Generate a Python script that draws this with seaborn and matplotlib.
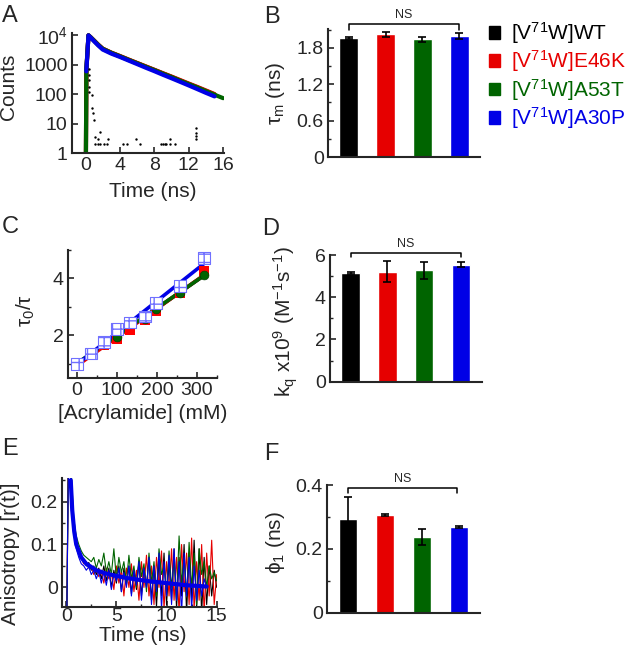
import numpy as np
import pandas as pd
import matplotlib
matplotlib.use("Agg")
import matplotlib.pyplot as plt
from matplotlib.patches import Patch
from matplotlib.ticker import AutoMinorLocator, NullLocator
import seaborn as sns


# ---------------------------------------------------------------------------
# DATA
# ---------------------------------------------------------------------------
variants = ["WT", "E46K", "A53T", "A30P"]
legend_labels = [r"[V$^{71}$W]WT", r"[V$^{71}$W]E46K", r"[V$^{71}$W]A53T", r"[V$^{71}$W]A30P"]
colors = ["#000000", "#e60000", "#006400", "#0000e6"]

# A: fluorescence decays (counts, log scale)
decay_t = [0.05, 0.1, 0.35, 0.6, 1, 1.5, 2, 3, 4, 5, 6, 7, 8, 9, 10, 11, 12, 13, 14, 15, 16]
decay_wt = [0.5, 650, 10000, 8600, 6600, 4700, 3500, 2550, 1950, 1480, 1140, 870, 670, 510, 390, 295, 225, 172, 130, 99]
decay_e46k = [0.5, 600, 10000, 8700, 6700, 4800, 3550, 2600, 2000, 1520, 1160, 890, 680, 520, 400, 305, 232, 178, 135, 102]
decay_a53t = [0.5, 700, 10000, 8600, 6600, 4700, 3500, 2550, 1950, 1480, 1130, 860, 660, 500, 385, 290, 222, 170, 128, 97, 74]
decay_a30p_t = [0.1, 0.35, 0.6, 1, 1.5, 2, 3, 4, 5, 6, 7, 8, 9, 10, 11, 12, 13, 14, 15]
decay_a30p = [600, 10000, 8400, 6300, 4500, 3300, 2400, 1850, 1400, 1060, 800, 610, 460, 350, 265, 200, 150, 112, 85]
irf_t = [0.4, 0.4, 0.4, 0.4, 0.45, 0.72, 0.78, 0.9, 1.0, 1.1, 1.1, 1.5, 1.5, 1.7, 1.7, 2.1, 2.5,
         2.65, 4.4, 4.8, 5.9, 6.3, 8.8, 9.0, 9.2, 9.4, 9.8, 9.8, 10.4, 12.9, 12.9, 12.9, 12.9]
irf_counts = [700, 450, 300, 180, 120, 95, 35, 23, 13, 3.7, 2, 2, 3, 5.4, 2, 2, 2,
              3, 2, 2, 3, 2, 2, 2, 2, 2, 2, 3, 2, 3, 4, 5, 7]

# B: mean lifetime
tau_m = [1.96, 2.02, 1.94, 2.00]
tau_m_err = [0.01, 0.04, 0.04, 0.05]

# C: Stern-Volmer
acrylamide = [0, 35, 68, 100, 133, 170, 197, 258, 317]
sv_wt = [1.0, 1.34, 1.68, 1.95, 2.3, 2.6, 2.9, 3.5, 4.15]
sv_e46k = [1.0, 1.33, 1.66, 1.88, 2.18, 2.54, 2.86, 3.5, 4.25]
sv_a53t = [1.0, 1.35, 1.7, 1.95, 2.45, 2.58, 2.92, 3.5, 4.12]
sv_a30p = [1.0, 1.36, 1.77, 2.22, 2.45, 2.66, 3.14, 3.73, 4.71]

# D: quenching constant
kq = [5.15, 5.2, 5.28, 5.55]
kq_err = [0.05, 0.5, 0.4, 0.12]

# E: anisotropy decays, sampled every 0.25 ns
dt_aniso = 0.25
r_wt = [-0.2, 0.40, 0.26, 0.15, 0.105, 0.085, 0.07, 0.065, 0.05, 0.058, 0.04, 0.05, 0.03, 0.045,
        0.02, 0.05, 0.015, 0.045, 0.0, 0.04, 0.01, 0.05, -0.01, 0.045, 0.005, 0.05, -0.015, 0.04,
        -0.005, 0.06, -0.02, 0.045, 0.0, 0.07, -0.03, 0.05, -0.045, 0.065, -0.02, 0.08, -0.04,
        0.06, -0.03, 0.09, -0.05, 0.07, -0.02, 0.10, -0.06, 0.08, -0.03, 0.11, -0.05, 0.09,
        -0.06, 0.07, -0.04, 0.05, -0.02, 0.04, 0.0]
r_e46k = [-0.2, 0.38, 0.25, 0.14, 0.10, 0.08, 0.068, 0.055, 0.06, 0.045, 0.05, 0.03, 0.045, 0.025,
          0.04, 0.01, 0.045, 0.02, 0.035, -0.005, 0.05, 0.01, 0.04, -0.02, 0.045, 0.0, 0.055,
          -0.01, 0.04, -0.03, 0.06, 0.0, 0.075, -0.02, 0.05, -0.04, 0.07, 0.0, 0.085, -0.05,
          0.06, -0.02, 0.09, -0.03, 0.07, -0.06, 0.1, -0.01, 0.08, -0.04, 0.115, -0.05, 0.06,
          -0.03, 0.10, -0.06, 0.08, -0.02, 0.11, -0.04, 0.03]
r_a53t = [-0.2, 0.36, 0.27, 0.16, 0.12, 0.10, 0.085, 0.075, 0.07, 0.065, 0.06, 0.07, 0.045, 0.065,
          0.05, 0.08, 0.035, 0.06, 0.03, 0.09, 0.02, 0.07, 0.035, 0.06, 0.01, 0.075, 0.02, 0.05,
          0.0, 0.07, 0.025, 0.055, -0.01, 0.08, 0.01, 0.06, -0.02, 0.09, 0.03, 0.05, -0.01,
          0.085, 0.0, 0.065, -0.03, 0.12, 0.01, 0.07, -0.02, 0.105, 0.0, 0.08, -0.04, 0.09,
          0.03, 0.06, 0.0, 0.05, 0.02, 0.035, 0.015]
r_a30p = [-0.2, 0.35, 0.24, 0.13, 0.09, 0.07, 0.055, 0.05, 0.04, 0.048, 0.03, 0.04, 0.02, 0.038,
          0.01, 0.035, 0.005, 0.04, -0.005, 0.03, 0.015, 0.045, -0.01, 0.035, 0.0, 0.05, -0.02,
          0.04, 0.005, 0.06, -0.03, 0.045, 0.0, 0.07, -0.04, 0.05, -0.01, 0.08, -0.05, 0.06,
          -0.02, 0.075, -0.04, 0.09, -0.03, 0.06, -0.06, 0.08, -0.02, 0.07, -0.05, 0.05, -0.03,
          0.04, -0.02, 0.02, 0.0]
fit_t = [0.45, 0.6, 0.8, 1.0, 1.5, 2, 3, 4, 6, 8, 10, 12, 14]
fit_r = [0.25, 0.18, 0.13, 0.1, 0.07, 0.055, 0.04, 0.032, 0.022, 0.015, 0.01, 0.005, 0.002]

# F: rotational correlation time
phi1 = [0.292, 0.305, 0.237, 0.268]
phi1_err = [0.07, 0.003, 0.026, 0.003]


# ---------------------------------------------------------------------------
# STYLE
# ---------------------------------------------------------------------------
sns.set_style("ticks")
plt.rcParams["font.family"] = ["Liberation Sans", "DejaVu Sans"]
plt.rcParams["mathtext.fontset"] = "custom"
plt.rcParams["mathtext.rm"] = "Liberation Sans"
plt.rcParams["mathtext.it"] = "Liberation Sans:italic"
plt.rcParams["axes.linewidth"] = 1.5
plt.rcParams["xtick.direction"] = "in"
plt.rcParams["ytick.direction"] = "in"

TICK_FS = 14
LABEL_FS = 15
palette = dict(zip(variants, colors))

fig = plt.figure(figsize=(6.33, 6.52), dpi=100)
W, H = 633.0, 652.0


def add_axes(left, right, top, bottom):
    return fig.add_axes([left / W, 1 - bottom / H, (right - left) / W, (bottom - top) / H])


def style_axes(ax):
    sns.despine(ax=ax)
    ax.tick_params(which="major", length=4, width=1.2, labelsize=TICK_FS, pad=3)
    ax.tick_params(which="minor", length=2.5, width=1.0)


def long_frame(t_lists, y_lists):
    rows = []
    for v, t, y in zip(variants, t_lists, y_lists):
        rows.append(pd.DataFrame({"t": t, "y": y, "variant": v}))
    return pd.concat(rows, ignore_index=True)


def bar_panel(ax, vals, errs):
    df = pd.DataFrame({"variant": variants, "value": vals})
    sns.barplot(data=df, x="variant", y="value", hue="variant", palette=palette,
                order=variants, hue_order=variants, errorbar=None, width=0.5,
                saturation=1, legend=False, ax=ax)
    ax.errorbar(np.arange(len(variants)), vals, yerr=errs, fmt="none",
                ecolor="black", elinewidth=1.2, capsize=3, capthick=1.2)
    ax.set_xlim(-0.56, 3.56)
    ax.set_xticks([])
    ax.set_xlabel("")
    style_axes(ax)
    ax.yaxis.set_minor_locator(AutoMinorLocator(2))


def ns_bracket(ax, y_line, y_tick, x0=0, x1=3):
    tr = ax.get_xaxis_transform()
    ax.plot([x0, x0, x1, x1], [y_tick, y_line, y_line, y_tick], color="black",
            lw=1.1, transform=tr, clip_on=False)
    ax.text((x0 + x1) / 2, y_line + 0.025, "NS", transform=tr, ha="center",
            va="bottom", fontsize=9)


# ---------------------------------------------------------------------------
# A: decays
# ---------------------------------------------------------------------------
axA = add_axes(71.7, 224, 33, 153.3)
decay_lists = [decay_wt, decay_e46k, decay_a53t, decay_a30p]
decay_times = [decay_t[:len(decay_wt)], decay_t[:len(decay_e46k)], decay_t, decay_a30p_t]
dfA = long_frame(decay_times, decay_lists)
sns.lineplot(data=dfA, x="t", y="y", hue="variant", hue_order=variants,
             palette=palette, lw=3, estimator=None, legend=False, ax=axA)
sns.scatterplot(x=irf_t, y=irf_counts, color="black", s=3, linewidth=0, ax=axA, zorder=5)
axA.set_yscale("log")
axA.set_ylim(1, 1.2e4)
axA.set_xlim(-1.6, 16.1)
axA.set_yticks([1, 10, 100, 1000, 10000])
axA.set_yticklabels(["1", "10", "100", "1000", r"10$^4$"])
axA.yaxis.set_minor_locator(NullLocator())
axA.set_xticks([0, 4, 8, 12, 16])
style_axes(axA)
axA.set_xlabel("Time (ns)", fontsize=LABEL_FS)
axA.set_ylabel("Counts", fontsize=LABEL_FS)
axA.yaxis.set_label_coords(-0.35, 0.55)
axA.xaxis.set_label_coords(0.53, -0.24)

# ---------------------------------------------------------------------------
# B: tau_m
# ---------------------------------------------------------------------------
axB = add_axes(328, 480, 29, 157)
bar_panel(axB, tau_m, tau_m_err)
axB.set_ylim(0, 2.11)
axB.set_yticks([0, 0.6, 1.2, 1.8])
axB.set_yticklabels(["0", "0.6", "1.2", "1.8"])
axB.set_ylabel(r"τ$_\mathregular{m}$ (ns)", fontsize=LABEL_FS)
axB.yaxis.set_label_coords(-0.27, 0.5)
ns_bracket(axB, 1.04, 0.995)

# legend
handles = [Patch(facecolor=c, edgecolor=c) for c in colors]
fig.legend(handles, legend_labels, loc="upper left", bbox_to_anchor=(489 / W, 1 - 20 / H),
           frameon=False, fontsize=15, handlelength=0.55, handleheight=0.55,
           handletextpad=0.5, labelspacing=0.12, borderpad=0, borderaxespad=0,
           labelcolor=colors)

# ---------------------------------------------------------------------------
# C: Stern-Volmer
# ---------------------------------------------------------------------------
axC = add_axes(68, 217, 250, 378)
sv_lists = [sv_wt, sv_e46k, sv_a53t, sv_a30p]
for v, c, y in zip(variants, colors, sv_lists):
    sns.regplot(x=acrylamide, y=y, scatter=False, ci=None, color=c,
                line_kws={"lw": 2.6}, ax=axC)
sns.scatterplot(x=acrylamide, y=sv_wt, color="black", marker="o", s=35,
                linewidth=0, ax=axC, zorder=3)
sns.scatterplot(x=acrylamide, y=sv_e46k, color="#ff0000", marker="s", s=55,
                linewidth=0, ax=axC, zorder=3)
sns.scatterplot(x=acrylamide, y=sv_a53t, color="#006400", marker="o", s=40,
                edgecolor="#004000", linewidth=0.5, ax=axC, zorder=4)
sns.scatterplot(x=acrylamide, y=sv_a30p, marker="s", s=70, facecolor="white",
                edgecolor="#7070ff", linewidth=0.8, hatch="++", ax=axC, zorder=5)
axC.set_xlim(-22, 350)
axC.set_ylim(0.5, 5.0)
axC.set_xticks([0, 100, 200, 300])
axC.set_yticks([2, 4])
axC.xaxis.set_minor_locator(AutoMinorLocator(2))
axC.yaxis.set_minor_locator(AutoMinorLocator(2))
style_axes(axC)
axC.set_xlabel("[Acrylamide] (mM)", fontsize=LABEL_FS)
axC.set_ylabel(r"τ$_\mathregular{0}$/τ", fontsize=LABEL_FS)
axC.yaxis.set_label_coords(-0.21, 0.53)
axC.xaxis.set_label_coords(0.5, -0.2)

# ---------------------------------------------------------------------------
# D: kq
# ---------------------------------------------------------------------------
axD = add_axes(330, 481.7, 255, 381.7)
bar_panel(axD, kq, kq_err)
axD.set_ylim(0, 6)
axD.set_yticks([0, 2, 4, 6])
axD.set_ylabel(r"k$_\mathregular{q}$ x10$^\mathregular{9}$ (M$^\mathregular{-1}$s$^\mathregular{-1}$)",
               fontsize=LABEL_FS)
axD.yaxis.set_label_coords(-0.2, 0.47)
ns_bracket(axD, 1.015, 0.985)

# ---------------------------------------------------------------------------
# E: anisotropy
# ---------------------------------------------------------------------------
axE = add_axes(62, 216.7, 478, 606.7)
r_lists = [r_wt, r_e46k, r_a53t, r_a30p]
dfE = long_frame([dt_aniso * np.arange(len(r)) for r in r_lists], r_lists)
sns.lineplot(data=dfE, x="t", y="y", hue="variant", hue_order=variants,
             palette=palette, lw=0.8, estimator=None, legend=False, ax=axE)
sns.lineplot(x=fit_t, y=fit_r, color="#0000e6", lw=3, ax=axE)
axE.set_xlim(-0.42, 15)
axE.set_ylim(-0.045, 0.255)
axE.set_xticks([0, 5, 10, 15])
axE.set_yticks([0, 0.1, 0.2])
axE.set_yticklabels(["0", "0.1", "0.2"])
axE.xaxis.set_minor_locator(AutoMinorLocator(2))
axE.yaxis.set_minor_locator(AutoMinorLocator(2))
style_axes(axE)
axE.tick_params(axis="x", pad=1)
axE.set_xlabel("Time (ns)", fontsize=LABEL_FS)
axE.set_ylabel("Anisotropy [r(t)]", fontsize=LABEL_FS)
axE.yaxis.set_label_coords(-0.27, 0.41)
axE.xaxis.set_label_coords(0.52, -0.15)

# ---------------------------------------------------------------------------
# F: phi1
# ---------------------------------------------------------------------------
axF = add_axes(327, 480, 485, 612.7)
bar_panel(axF, phi1, phi1_err)
axF.set_ylim(0, 0.4)
axF.set_yticks([0, 0.2, 0.4])
axF.set_yticklabels(["0", "0.2", "0.4"])
axF.set_ylabel(r"ϕ$_\mathregular{1}$ (ns)", fontsize=LABEL_FS)
axF.yaxis.set_label_coords(-0.26, 0.55)
ns_bracket(axF, 0.975, 0.94, 0, 2.95)

# panel letters
for letter, x, y in [("A", 2, 5), ("B", 264, 6), ("C", 2, 216), ("D", 262, 218),
                     ("E", 2, 438), ("F", 264, 443)]:
    fig.text(x / W, 1 - y / H, letter, fontsize=17, ha="left", va="top")

fig.savefig("out.png", dpi=100)
